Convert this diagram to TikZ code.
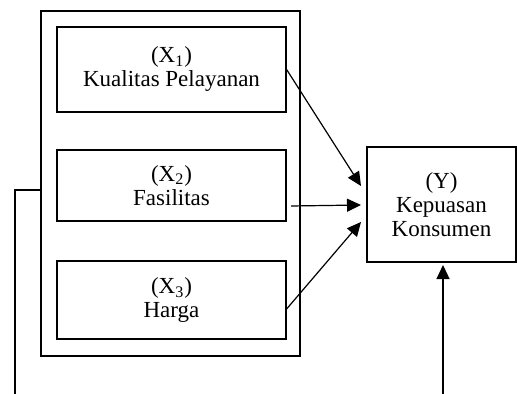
\documentclass[tikz,border=0pt]{standalone}
\usepackage{fontspec}
\setmainfont{Liberation Serif}
\usetikzlibrary{arrows.meta}

\begin{document}
\begin{tikzpicture}[x=0.5pt,y=-0.5pt,line width=0.6pt,
    every node/.style={align=center, font=\fontsize{11.5}{12}\selectfont},
    varbox/.style={draw, minimum width=114.5pt},
    arr/.style={-{Triangle[length=7pt,width=6.5pt]}}]
  \useasboundingbox (0,0) rectangle (517,394);
  % frame round the three X variables
  \node[draw, minimum width=129.5pt, minimum height=172.5pt] at (170.5,183.5) (frame) {};
  \node[varbox, minimum height=42.5pt] at (171.5,69.5) (X1) {(X\textsubscript{1})\\Kualitas Pelayanan};
  \node[varbox, minimum height=35.5pt] at (171.5,185.5) (X2) {(X\textsubscript{2})\\Fasilitas};
  \node[varbox, minimum height=39pt] at (171.5,300) (X3) {(X\textsubscript{3})\\Harga};
  \node[draw, minimum width=74.5pt, minimum height=57.5pt] at (441.5,204.5) (Y) {(Y)\\Kepuasan\\Konsumen};
  % free ends of the connectors
  \coordinate (a1) at (361,186);
  \coordinate (a2) at (361,205);
  \coordinate (a3) at (361,222);
  \coordinate (s2) at (291,206);
  \coordinate (s4) at (443,394);
  \coordinate (t4) at (443,265);
  \coordinate (l1) at (15,190);
  \coordinate (l2) at (15,394);
  \draw[arr] (X1.east) -- (a1);
  \draw[arr] (s2) -- (a2);
  \draw[arr] ([yshift=-4.5pt]X3.east) -- (a3);
  \draw[arr] (s4) -- (t4);
  \draw (frame.west |- l1) -- (l1) -- (l2);
\end{tikzpicture}
\end{document}
